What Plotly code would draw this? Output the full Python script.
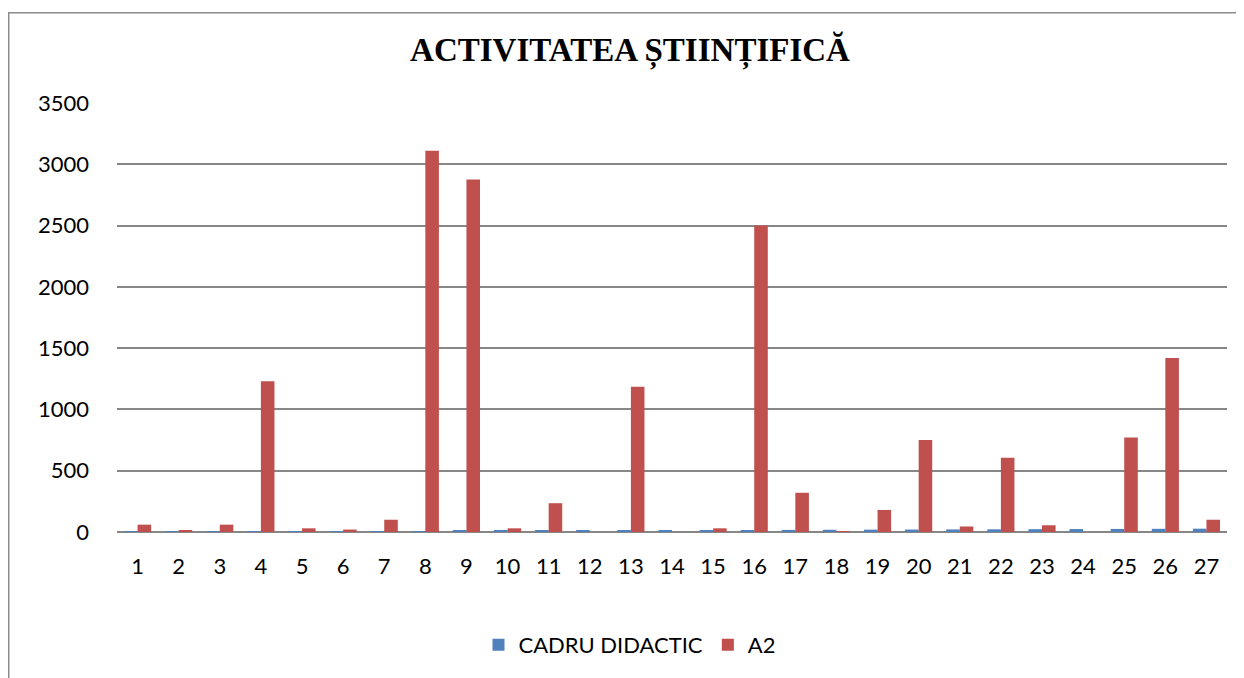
import plotly.graph_objects as go

categories = [str(i) for i in range(1, 28)]
cadru_didactic = [1, 2, 3, 4, 5, 6, 7, 8, 9, 10, 11, 12, 13, 14, 15, 16, 17, 18, 19, 20, 21, 22, 23, 24, 25, 26, 27]
a2 = [60, 10, 60, 1230, 30, 20, 100, 3110, 2875, 30, 235, 0, 1185, 0, 30, 2500,
      320, 5, 180, 750, 45, 605, 55, 0, 770, 1420, 100]
y_ticks = [0, 500, 1000, 1500, 2000, 2500, 3000, 3500]

OFF = 8  # page body margin offset
W, H = 1244 - OFF, 678 - OFF
L, R, T, B = 117 - OFF, 17, 103 - OFF, 146
pw, ph = W - L - R, H - T - B

fig = go.Figure()
fig.add_trace(go.Bar(name="CADRU DIDACTIC", x=categories, y=cadru_didactic,
                     marker=dict(color="#4F81BD", line=dict(width=0))))
fig.add_trace(go.Bar(name="A2", x=categories, y=a2,
                     marker=dict(color="#C0504D", line=dict(width=0))))

fig.update_layout(
    width=W, height=H,
    margin=dict(l=L, r=R, t=T, b=B, pad=0),
    paper_bgcolor="white", plot_bgcolor="white",
    barmode="group", bargap=0.34, bargroupgap=0,
    title=dict(text="<b>ACTIVITATEA ȘTIINȚIFICĂ</b>", x=(630 - OFF) / W, xanchor="center",
               y=1 - (49 - OFF) / H, yanchor="middle",
               font=dict(family="Liberation Serif", size=33, color="black")),
    font=dict(family="Lato, Liberation Sans, sans-serif", size=22, color="black"),
    showlegend=True,
    legend=dict(orientation="h", x=(630 - OFF - L) / pw, xanchor="center",
                y=(H - B - (645 - OFF)) / ph, yanchor="middle",
                font=dict(size=22), itemwidth=30, traceorder="normal"),
    xaxis=dict(type="category", showgrid=False, showline=False, ticks="",
               tickfont=dict(size=22), ticklabelstandoff=19, zeroline=False),
    yaxis=dict(range=[0, 3500], tickvals=y_ticks, showgrid=True,
               gridcolor="#878787", gridwidth=1.6, zeroline=True,
               zerolinecolor="#878787", zerolinewidth=1.6, showline=False,
               ticks="", tickfont=dict(size=22), ticklabelstandoff=27),
    shapes=[dict(type="rect", xref="paper", yref="paper",
                 x0=(8 - OFF - L + 0.75) / pw, x1=(W + 20 - L) / pw,
                 y0=(H - B - H - 20) / ph, y1=(H - B - (12 - OFF) - 0.75) / ph,
                 line=dict(color="#8C8C8C", width=1.5), fillcolor="rgba(0,0,0,0)",
                 layer="below")],
)

fig.write_html("out.html")
